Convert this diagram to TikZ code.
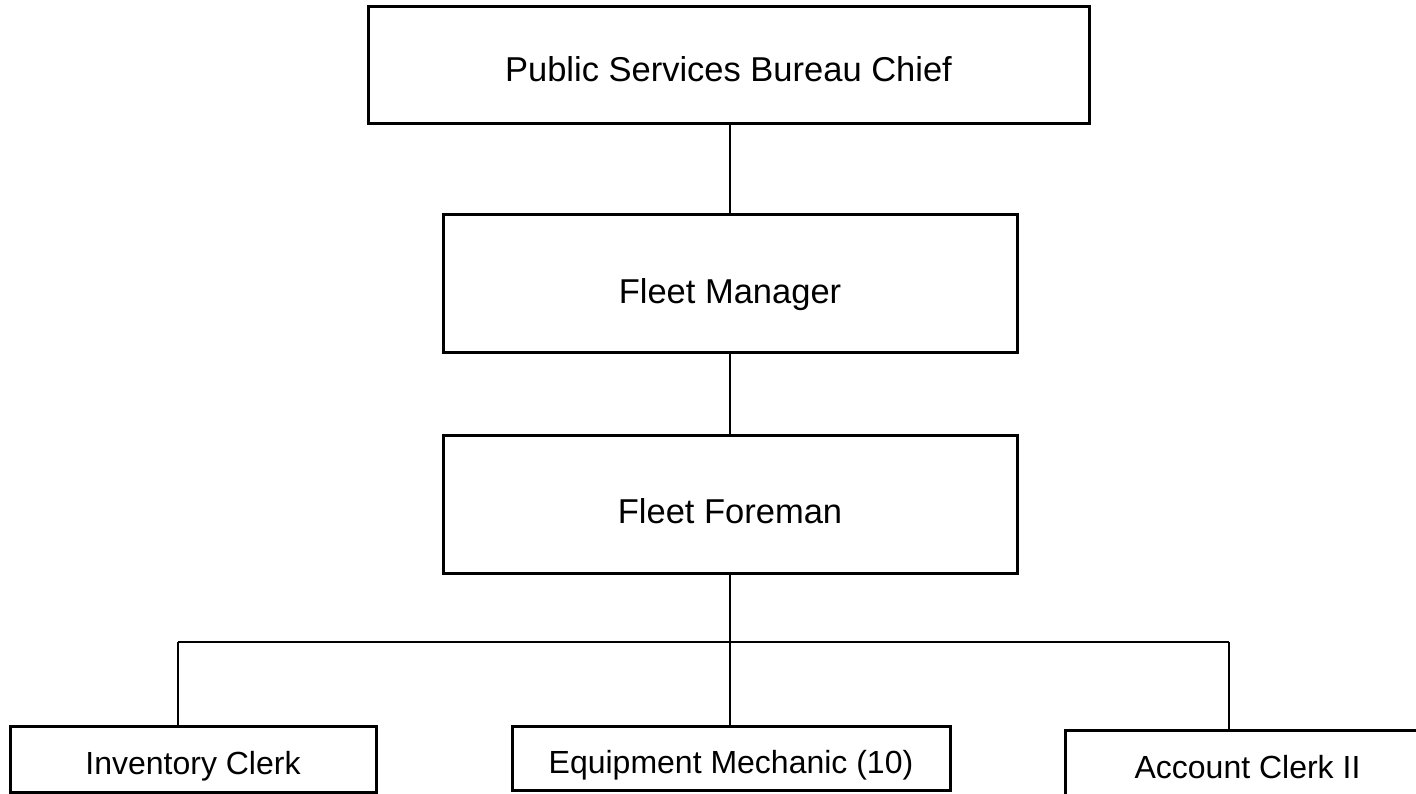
\documentclass[tikz,border=0pt]{standalone}
\usepackage{fontspec}
\setmainfont{Liberation Sans}
\begin{document}
\begin{tikzpicture}[x=1pt,y=-1pt,
  box/.style={draw=black, line width=3pt, fill=white, rectangle,
              inner sep=0pt, text depth=0pt},
  big/.style={font=\fontsize{34.5}{40}\selectfont},
  small/.style={font=\fontsize{32}{38}\selectfont},
  link/.style={draw=black, line width=2pt}]
\useasboundingbox (0,0) rectangle (1416,793);

% reporting chain
\node[box,big,minimum width=721pt,minimum height=117pt,text height=33pt]
  (chief) at (728.5,64.5) {Public Services Bureau Chief};
\node[box,big,minimum width=574pt,minimum height=138pt,text height=40pt]
  (mgr) at (730,283) {Fleet Manager};
\node[box,big,minimum width=574pt,minimum height=138pt,text height=38pt]
  (fore) at (730,504) {Fleet Foreman};

% staff row
\node[box,small,minimum width=366pt,minimum height=66pt,text height=30pt]
  (inv) at (193,759) {Inventory Clerk};
\node[box,small,minimum width=438pt,minimum height=64pt,text height=30pt]
  (mech) at (731,758) {Equipment Mechanic (10)};
\node[box,small,minimum width=365pt,minimum height=70pt,text height=26pt]
  (acct) at (1247.5,765) {Account Clerk II};

% branching points
\coordinate (j)  at (730,642);
\coordinate (jl) at (178,642);
\coordinate (jr) at (1229,642);

% connectors
\draw[link] (mgr.north |- chief.south) -- (mgr.north);
\draw[link] (mgr.south) -- (fore.north);
\draw[link] (fore.south) -- (j);
\draw[link] (jl) -- (jr);
\draw[link] (jl) -- (jl |- inv.north);
\draw[link] (j) -- (j |- mech.north);
\draw[link] (jr) -- (jr |- acct.north);
\end{tikzpicture}
\end{document}
